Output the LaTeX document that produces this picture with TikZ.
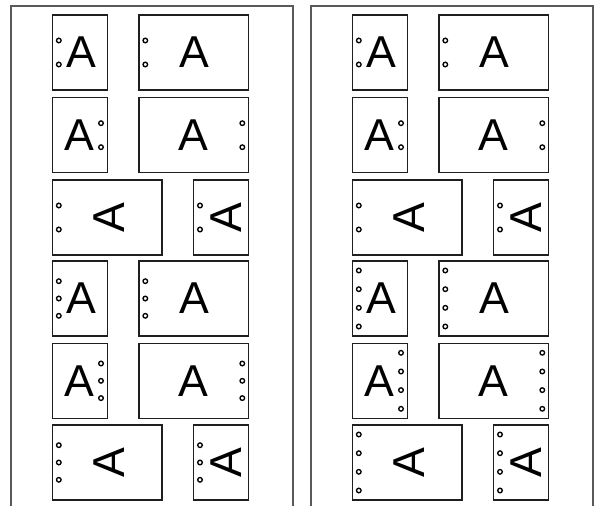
\documentclass[tikz,border=0pt]{standalone}
\usepackage{fontspec}
\setmainfont{Liberation Sans}
\newcommand\myholes[3]{%
  \ifcase#3\or\or
    \foreach \dd in {-12,12} \draw[hole] (#1,#2+\dd) circle[radius=2.3];
  \or
    \foreach \dd in {-17.3,0,17.3} \draw[hole] (#1,#2+\dd) circle[radius=2.3];
  \or
    \foreach \dd in {-28,-9.3,9.3,28} \draw[hole] (#1,#2+\dd) circle[radius=2.3];
  \fi}
\newcommand\mypanel[3]{%
  \begin{scope}[shift={(#1,0)}]
    \draw[frame] (11,506) -- (11,6) -- (293,6) -- (293,506);
    % row 1
    \draw[page] (52.5,15) rectangle (107.5,90); \myholes{58.8}{52.5}{2}
    \node[letter] (#2s1) at (81.5,52.5) {A};
    \draw[page] (139,15) rectangle (248.5,90); \myholes{145.3}{52.5}{2}
    \node[letter] (#2l1) at (194,52.5) {A};
    % row 2
    \draw[page] (52.5,97.7) rectangle (107.5,172.7); \myholes{101}{135.2}{2}
    \node[letter] (#2s2) at (79.5,135.2) {A};
    \draw[page] (139,97.7) rectangle (248.5,172.7); \myholes{242.3}{135.2}{2}
    \node[letter] (#2l2) at (193.8,135.2) {A};
    % row 3
    \draw[page] (52.5,180) rectangle (162,255); \myholes{58.8}{217.5}{2}
    \node[letter,rotate=90] (#2l3) at (108.8,218) {A};
    \draw[page] (193.5,180) rectangle (248.5,255); \myholes{200}{217.5}{2}
    \node[letter,rotate=90] (#2s3) at (225.8,218) {A};
    % row 4
    \draw[page] (52.5,261) rectangle (107.5,336); \myholes{58.8}{298.5}{#3}
    \node[letter] (#2s4) at (81.5,298.5) {A};
    \draw[page] (139,261) rectangle (248.5,336); \myholes{145.3}{298.5}{#3}
    \node[letter] (#2l4) at (194,298.5) {A};
    % row 5
    \draw[page] (52.5,343.3) rectangle (107.5,418.3); \myholes{101}{380.8}{#3}
    \node[letter] (#2s5) at (79.5,380.8) {A};
    \draw[page] (139,343.3) rectangle (248.5,418.3); \myholes{242.3}{380.8}{#3}
    \node[letter] (#2l5) at (193.8,380.8) {A};
    % row 6
    \draw[page] (52.5,425) rectangle (162,500); \myholes{58.8}{462.5}{#3}
    \node[letter,rotate=90] (#2l6) at (108.8,463) {A};
    \draw[page] (193.5,425) rectangle (248.5,500); \myholes{200}{462.5}{#3}
    \node[letter,rotate=90] (#2s6) at (225.8,463) {A};
  \end{scope}}
\begin{document}
\begin{tikzpicture}[x=0.75pt,y=-0.75pt,
  page/.style={draw=black!88,line width=1pt,fill=white},
  hole/.style={draw=black,line width=1pt},
  letter/.style={inner sep=0pt,font=\fontsize{33.5}{33.5}\selectfont},
  frame/.style={draw=black!65,line width=1.1pt}]
  \useasboundingbox[fill=white] (0,0) rectangle (600,506);
  \mypanel{0}{p}{3}
  \mypanel{300}{q}{4}
\end{tikzpicture}
\end{document}
